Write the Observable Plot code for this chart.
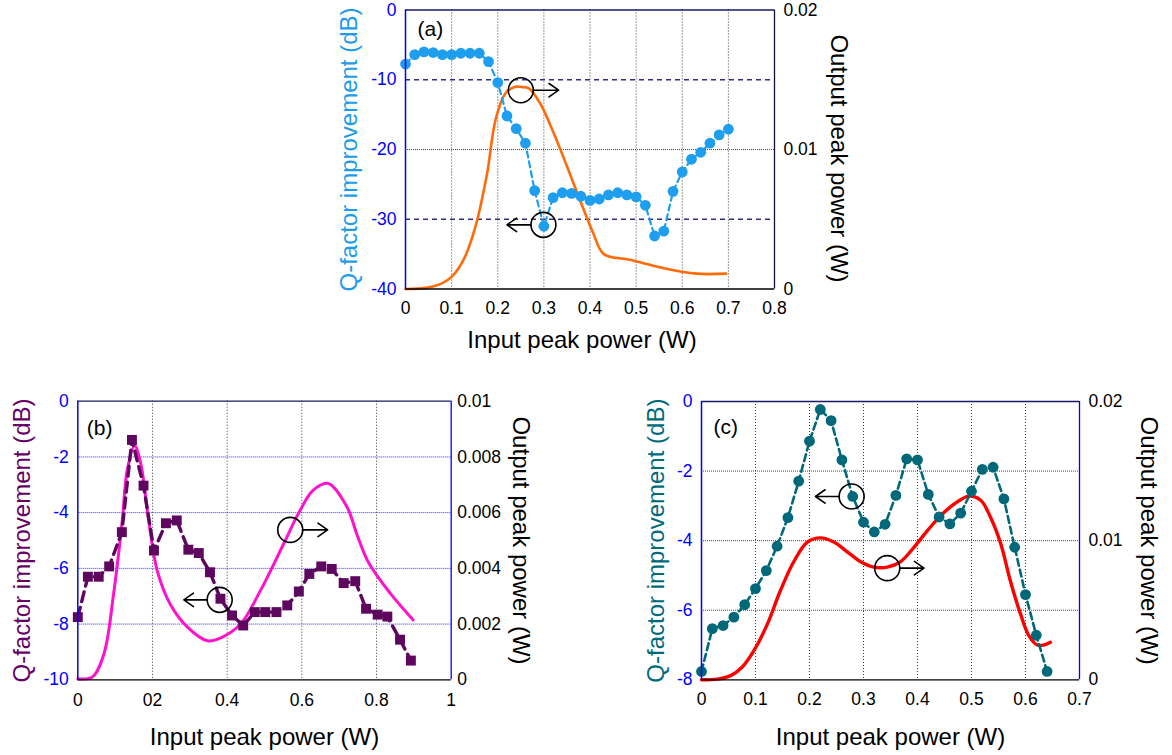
<!DOCTYPE html>
<html><head><meta charset="utf-8">
<script src="https://cdn.jsdelivr.net/npm/d3@7"></script>
<script src="https://cdn.jsdelivr.net/npm/@observablehq/plot@0.6"></script>
<style>
html,body{margin:0;padding:0;background:#fff;width:1172px;height:755px;overflow:hidden;}
.panel{position:absolute;}
</style></head><body>
<div id="pa" class="panel" style="left:300px;top:0px"></div>
<div id="pb" class="panel" style="left:0px;top:390px"></div>
<div id="pc" class="panel" style="left:600px;top:390px"></div>
<script>
// ---------- Panel (a) ----------
const qA_x = [0,0.02,0.04,0.06,0.08,0.10,0.12,0.14,0.16,0.18,0.20,0.22,0.24,0.26,0.28,0.30,0.32,0.34,0.36,0.38,0.40,0.42,0.44,0.46,0.48,0.50,0.52,0.54,0.56,0.58,0.60,0.62,0.64,0.66,0.68,0.70];
const qA_y = [-7.75,-6.4,-6.0,-6.1,-6.4,-6.4,-6.2,-6.2,-6.2,-7.4,-10.4,-15.2,-17.0,-19.1,-25.9,-31.0,-26.9,-26.2,-26.3,-26.7,-27.3,-27.1,-26.5,-26.2,-26.5,-26.8,-28.0,-32.4,-31.7,-26.0,-23.2,-21.4,-20.4,-19.1,-17.9,-17.1];
const pA_x = [0,0.047,0.079,0.101,0.126,0.151,0.177,0.195,0.216,0.238,0.253,0.267,0.292,0.321,0.35,0.378,0.407,0.43,0.486,0.559,0.631,0.695];
const pA_y = [0,0.0001,0.0004,0.0009,0.0021,0.0044,0.0083,0.0121,0.014,0.0145,0.01447,0.0144,0.0133,0.0112,0.0088,0.0064,0.004,0.0025,0.0021,0.0015,0.0011,0.0011];
const xTicksA = [0,0.1,0.2,0.3,0.4,0.5,0.6,0.7,0.8];
const xLabelsA = ["0","0.1","0.2","0.3","0.4","0.5","0.6","0.7","0.8"];
const yTicksA = [0,-10,-20,-30,-40];
const yLabelsA = ["0","-10","-20","-30","-40"];
const rTicksA = [0,0.01,0.02];
const rLabelsA = ["0","0.01","0.02"];
const annA_x = [0.25,0.299];
const annA_y = [-11.5,-30.8];
const annA_to = [0.332,0.22];

// ---------- Panel (b) ----------
const qB_x = [0,0.027,0.056,0.084,0.118,0.145,0.176,0.204,0.236,0.265,0.296,0.324,0.354,0.382,0.413,0.443,0.474,0.502,0.532,0.561,0.592,0.62,0.652,0.68,0.712,0.743,0.772,0.803,0.829,0.863,0.892];
const qB_y = [-7.75,-6.3,-6.3,-5.93,-4.7,-1.39,-3.03,-5.36,-4.38,-4.28,-5.33,-5.45,-6.14,-7.09,-7.69,-8.05,-7.57,-7.57,-7.57,-7.33,-6.83,-6.2,-5.93,-6.02,-6.53,-6.46,-7.45,-7.66,-7.73,-8.56,-9.31];
const pB_x = [0,0.039,0.07,0.096,0.119,0.132,0.152,0.168,0.19,0.213,0.248,0.293,0.347,0.382,0.436,0.489,0.552,0.592,0.63,0.67,0.721,0.748,0.779,0.837,0.898];
const pB_y = [0.00004,0.0001,0.00093,0.0031,0.0057,0.0075,0.0084,0.0078,0.0057,0.0039,0.0027,0.0019,0.0014,0.0015,0.002,0.0032,0.0049,0.006,0.0068,0.00705,0.0062,0.0052,0.0042,0.0031,0.00215];
const xTicksB = [0,0.2,0.4,0.6,0.8,1];
const xLabelsB = ["0","02","0.4","0.6","0.8","1"];
const yTicksB = [0,-2,-4,-6,-8,-10];
const yLabelsB = ["0","-2","-4","-6","-8","-10"];
const rTicksB = [0,0.002,0.004,0.006,0.008,0.01];
const rLabelsB = ["0","0.002","0.004","0.006","0.008","0.01"];
const annB_x = [0.380,0.569];
const annB_y = [-7.13,-4.62];
const annB_to = [0.284,0.669];

// ---------- Panel (c) ----------
const qC_x = [0,0.02,0.04,0.06,0.08,0.10,0.12,0.14,0.16,0.18,0.20,0.22,0.24,0.26,0.28,0.30,0.32,0.34,0.36,0.38,0.40,0.42,0.44,0.46,0.48,0.50,0.52,0.54,0.56,0.58,0.60,0.62,0.64];
const qC_y = [-7.76,-6.53,-6.44,-6.2,-5.84,-5.38,-4.86,-4.16,-3.34,-2.29,-1.14,-0.23,-0.55,-1.68,-2.73,-3.47,-3.75,-3.53,-2.7,-1.65,-1.68,-2.67,-3.32,-3.52,-3.21,-2.58,-1.95,-1.89,-2.8,-4.19,-5.55,-6.72,-7.76];
const pC_x = [0,0.029,0.054,0.075,0.097,0.122,0.146,0.171,0.196,0.22,0.245,0.27,0.294,0.319,0.344,0.369,0.393,0.418,0.443,0.467,0.495,0.517,0.535,0.554,0.572,0.591,0.606,0.622,0.634,0.646];
const pC_y = [0,0.00005,0.0003,0.0009,0.0021,0.004,0.0064,0.0085,0.0099,0.0102,0.0099,0.0092,0.0085,0.0081,0.0081,0.0085,0.0095,0.0107,0.0118,0.0126,0.0132,0.0129,0.0117,0.0098,0.0071,0.0047,0.0032,0.0025,0.0025,0.0027];
const xTicksC = [0,0.1,0.2,0.3,0.4,0.5,0.6,0.7];
const xLabelsC = ["0","0.1","0.2","0.3","0.4","0.5","0.6","0.7"];
const yTicksC = [0,-2,-4,-6,-8];
const yLabelsC = ["0","-2","-4","-6","-8"];
const rTicksC = [0,0.01,0.02];
const rLabelsC = ["0","0.01","0.02"];
const annC_x = [0.278,0.344];
const annC_y = [-2.73,-4.79];
const annC_to = [0.211,0.412];

const yTitle = "Q-factor improvement (dB)";
const rTitle = "Output peak power (W)";
const xTitle = "Input peak power (W)";
const FONT = "'Liberation Sans', Arial, Helvetica, sans-serif";
const TICK_FS = 17.5;

function drawPanel(o) {
  const [y0, y1] = o.yDomain;
  const toLeft = v => y0 + (v - o.rDomain[0]) / (o.rDomain[1] - o.rDomain[0]) * (y1 - y0);
  const lineData = o.pX.map((x, i) => ({x, y: o.pY[i]}));
  const ptData = o.qX.map((x, i) => ({x, y: o.qY[i]}));
  const ann = o.annX.map((x, i) => ({x, y: o.annY[i], to: o.annTo[i]}));
  const rTicksLeft = o.rTicks.map(toLeft);
  const xMin = o.xDomain[0], xMax = o.xDomain[1];
  const marks = [
    Plot.ruleX(o.xGrid, {stroke: "#222", strokeWidth: 0.9, strokeDasharray: "1,2"}),
    Plot.ruleY(o.yGrid, {stroke: "#3030ff", strokeWidth: 1, strokeDasharray: "1,1"}),
    o.yDash ? Plot.ruleY(o.yDash, {stroke: "#2e2e88", strokeWidth: 1.3, strokeDasharray: "5,4"}) : null,
    Plot.line(lineData, {x: "x", y: d => toLeft(d.y), stroke: o.pColor, strokeWidth: o.pWidth, curve: "catmull-rom"}),
    Plot.line(ptData, {x: "x", y: "y", stroke: o.qColor, strokeWidth: o.qWidth, strokeDasharray: o.qDash}),
    Plot.dot(ptData, {x: "x", y: "y", r: o.r, symbol: o.symbol, fill: o.qColor, stroke: "none"}),
    Plot.dot(ann, {x: "x", y: "y", r: 12.5, stroke: "#000", strokeWidth: 1.6, fill: "none"}),
    Plot.arrow(ann, {x1: "x", y1: "y", x2: "to", y2: "y", insetStart: 12.5, stroke: "#000", strokeWidth: 1.6, headLength: 11, headAngle: 70}),
    Plot.ruleY([y0], {stroke: "#000", strokeWidth: 1.3}),
    Plot.ruleY([y1], {stroke: "#1a1a66", strokeWidth: 1.3}),
    Plot.ruleX([xMin], {stroke: "#0000ff", strokeWidth: 1.5}),
    Plot.ruleX([xMax], {stroke: o.rightColor, strokeWidth: 1.3}),
    Plot.axisX({ticks: o.xTicks, tickFormat: d => o.xLabels[o.xTicks.indexOf(d)], tickSize: 0, tickPadding: o.xPad, fontSize: TICK_FS, fill: "#000", label: null}),
    Plot.axisY({anchor: "left", ticks: o.yTicks, tickFormat: d => o.yLabels[o.yTicks.indexOf(d)], tickSize: 0, tickPadding: 9, fontSize: TICK_FS, fill: "#0000ff", label: null}),
    Plot.axisY({anchor: "right", ticks: rTicksLeft, tickFormat: d => o.rLabels[rTicksLeft.indexOf(d)], tickSize: 0, tickPadding: o.rPad, fontSize: TICK_FS, fill: "#000", label: null}),
    Plot.text([o.panelLabel], {text: d => d, frameAnchor: "top-left", textAnchor: "start", lineAnchor: "middle", dx: o.labDx, dy: o.labDy, fontSize: 21, fill: "#000"}),
    Plot.text([yTitle], {text: d => d, frameAnchor: "left", textAnchor: "middle", lineAnchor: "middle", rotate: -90, dx: o.yTitleDx, fontSize: 24, fill: o.yTitleColor}),
    Plot.text([rTitle], {text: d => d, frameAnchor: "right", textAnchor: "middle", lineAnchor: "middle", rotate: 90, dx: o.rTitleDx, dy: o.rTitleDy, fontSize: 24, fill: "#000"}),
    Plot.text([xTitle], {text: d => d, frameAnchor: "bottom", textAnchor: "middle", lineAnchor: "middle", dx: o.xTitleDx, dy: o.xTitleDy, fontSize: 24, fill: "#000"})
  ].filter(Boolean);
  return Plot.plot({
    width: o.width, height: o.height,
    marginLeft: o.ml, marginRight: o.mr, marginTop: o.mt, marginBottom: o.mb,
    x: {domain: o.xDomain},
    y: {domain: o.yDomain},
    style: {fontFamily: FONT, fontSize: "17px", background: "#fff", color: "#000", overflow: "visible"},
    marks
  });
}

document.getElementById("pa").append(drawPanel({
  width: 570, height: 360, ml: 105, mr: 96, mt: 9.5, mb: 71.5,
  xDomain: [0, 0.8], yDomain: [-40, 0], rDomain: [0, 0.02],
  qX: qA_x, qY: qA_y, pX: pA_x, pY: pA_y,
  qColor: "#1e9eee", qWidth: 2.2, qDash: "6,4", r: 5.4, symbol: "circle",
  pColor: "#ff6a0a", pWidth: 2.6,
  xTicks: xTicksA, xLabels: xLabelsA, yTicks: yTicksA, yLabels: yLabelsA, rTicks: rTicksA, rLabels: rLabelsA,
  xGrid: [0.1,0.2,0.3,0.4,0.5,0.6,0.7], yGrid: [-20], yDash: [-10,-30],
  annX: annA_x, annY: annA_y, annTo: annA_to,
  rightColor: "#111144", xPad: 13, rPad: 9,
  panelLabel: "(a)", labDx: 12, labDy: 19,
  yTitleDx: -56, yTitleColor: "#1e9bea", rTitleDx: 64, rTitleDy: 9, xTitleDx: -8, xTitleDy: 51
}));

document.getElementById("pb").append(drawPanel({
  width: 560, height: 365, ml: 77.3, mr: 109.3, mt: 10.7, mb: 75.7,
  xDomain: [0, 1], yDomain: [-10, 0], rDomain: [0, 0.01],
  qX: qB_x, qY: qB_y, pX: pB_x, pY: pB_y,
  qColor: "#5e075e", qWidth: 3.4, qDash: "10,6", r: 5.6, symbol: "square",
  pColor: "#ff12cc", pWidth: 3,
  xTicks: xTicksB, xLabels: xLabelsB, yTicks: yTicksB, yLabels: yLabelsB, rTicks: rTicksB, rLabels: rLabelsB,
  xGrid: [0.2,0.4,0.6,0.8], yGrid: [-2,-4,-6,-8], yDash: null,
  annX: annB_x, annY: annB_y, annTo: annB_to,
  rightColor: "#0000ff", xPad: 14, rPad: 6,
  panelLabel: "(b)", labDx: 9, labDy: 26.6,
  yTitleDx: -55, yTitleColor: "#660066", rTitleDx: 69, rTitleDy: 0, xTitleDx: 0, xTitleDy: 58
}));

document.getElementById("pc").append(drawPanel({
  width: 572, height: 365, ml: 101, mr: 93, mt: 11, mb: 75.7,
  xDomain: [0, 0.7], yDomain: [-8, 0], rDomain: [0, 0.02],
  qX: qC_x, qY: qC_y, pX: pC_x, pY: pC_y,
  qColor: "#006878", qWidth: 2.6, qDash: "7,4", r: 5.4, symbol: "circle",
  pColor: "#ff0000", pWidth: 3.4,
  xTicks: xTicksC, xLabels: xLabelsC, yTicks: yTicksC, yLabels: yLabelsC, rTicks: rTicksC, rLabels: rLabelsC,
  xGrid: [0.1,0.2,0.3,0.4,0.5,0.6], yGrid: [-2,-4,-6], yDash: null,
  annX: annC_x, annY: annC_y, annTo: annC_to,
  rightColor: "#0000ff", xPad: 13, rPad: 9,
  panelLabel: "(c)", labDx: 12, labDy: 25.7,
  yTitleDx: -45, yTitleColor: "#006a7a", rTitleDx: 69, rTitleDy: 0, xTitleDx: 0, xTitleDy: 58
}));
</script>
</body></html>
